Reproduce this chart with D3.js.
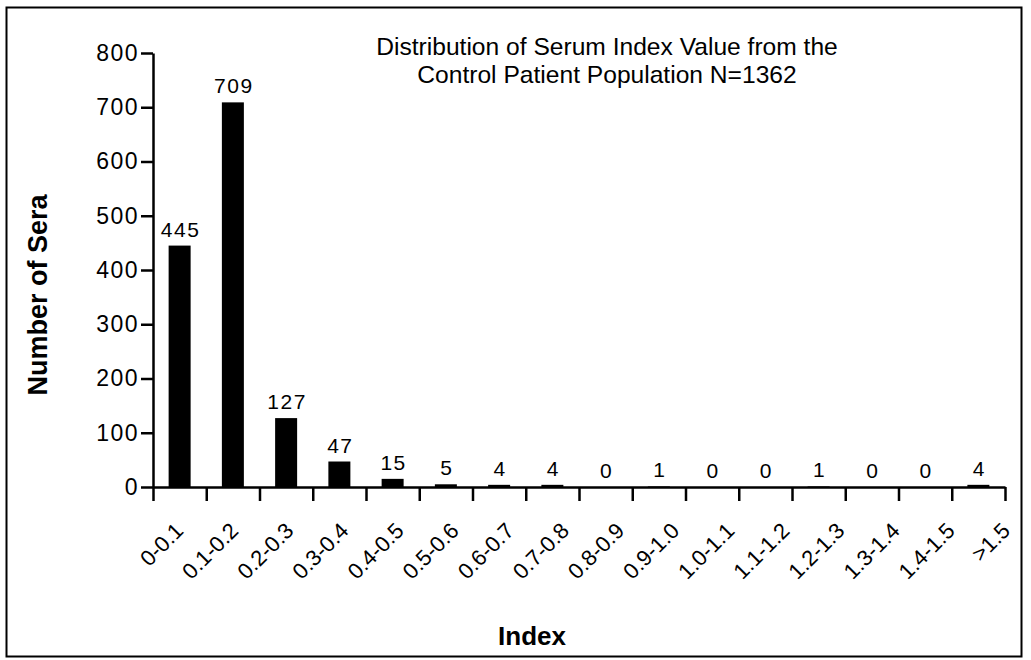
<!DOCTYPE html>
<html>
<head>
<meta charset="utf-8">
<script src="https://cdn.jsdelivr.net/npm/d3@7"></script>
<style>
  body { margin: 0; background: #fff; }
  svg { font-family: "Liberation Sans", Arial, Helvetica, sans-serif; }
</style>
</head>
<body>
<div id="chart"></div>
<script>
// Bins of the serum index and number of sera in each
const categories = ["0-0.1", "0.1-0.2", "0.2-0.3", "0.3-0.4", "0.4-0.5", "0.5-0.6",
  "0.6-0.7", "0.7-0.8", "0.8-0.9", "0.9-1.0", "1.0-1.1", "1.1-1.2",
  "1.2-1.3", "1.3-1.4", "1.4-1.5", ">1.5"];
const counts = [445, 709, 127, 47, 15, 5, 4, 4, 0, 1, 0, 0, 1, 0, 0, 4];
const yTicks = [0, 100, 200, 300, 400, 500, 600, 700, 800];
const titleLines = ["Distribution of Serum Index Value from the",
  "Control Patient Population N=1362"];

const width = 1031, height = 660;
const margin = { top: 53, right: 26, bottom: 173, left: 153 };

const svg = d3.select("#chart").append("svg")
  .attr("width", width)
  .attr("height", height);

// outer frame
svg.append("rect")
  .attr("x", 6.5).attr("y", 7.5)
  .attr("width", 1015).attr("height", 649)
  .attr("fill", "none")
  .attr("stroke", "#000")
  .attr("stroke-width", 2);

// x scale runs over bin index so ticks fall on bin edges
const x = d3.scaleLinear()
  .domain([0, categories.length])
  .range([margin.left, width - margin.right]);

const y = d3.scaleLinear()
  .domain([0, 800])
  .range([height - margin.bottom, margin.top]);

// category labels sit a little wider apart than the bins in the original
const labelX = d3.scaleLinear()
  .domain([0, categories.length - 1])
  .range([x(0.5) + 5, x(categories.length - 0.5) + 33]);

const barWidth = 22;

// bars
svg.append("g")
  .selectAll("rect")
  .data(counts)
  .join("rect")
  .attr("x", (d, i) => x(i + 0.5) - barWidth / 2)
  .attr("y", d => y(d))
  .attr("width", barWidth)
  .attr("height", d => y(0) - y(d))
  .attr("fill", "#000");

// value labels
svg.append("g")
  .selectAll("text")
  .data(counts)
  .join("text")
  .attr("x", (d, i) => x(i + 0.5) + 1)
  .attr("y", d => y(d) - 9)
  .attr("text-anchor", "middle")
  .attr("font-size", 21)
  .attr("letter-spacing", 1.5)
  .text(d => d);

// y axis
const yAxis = svg.append("g")
  .attr("transform", `translate(${margin.left},0)`)
  .call(d3.axisLeft(y).tickValues(yTicks).tickSize(12).tickSizeOuter(0).tickPadding(2));
yAxis.selectAll("text")
  .attr("font-size", 23)
  .attr("letter-spacing", 1.5)
  .attr("fill", "#000");
yAxis.selectAll("line, path").attr("stroke", "#000").attr("stroke-width", 2.5);

// x axis, ticks on bin boundaries
const xAxis = svg.append("g")
  .attr("transform", `translate(0,${y(0)})`)
  .call(d3.axisBottom(x).tickValues(d3.range(categories.length + 1))
    .tickSize(14).tickSizeOuter(0).tickFormat(""));
xAxis.selectAll("line, path").attr("stroke", "#000").attr("stroke-width", 2.5);

// rotated category labels
svg.append("g")
  .selectAll("text")
  .data(categories)
  .join("text")
  .attr("transform", (d, i) => `translate(${labelX(i)},${y(0) + 45}) rotate(-45)`)
  .attr("text-anchor", "end")
  .attr("font-size", 22)
  .text(d => d);

// title
svg.append("text")
  .attr("x", 607)
  .attr("y", 55)
  .attr("text-anchor", "middle")
  .attr("font-size", 24.6)
  .selectAll("tspan")
  .data(titleLines)
  .join("tspan")
  .attr("x", 607)
  .attr("dy", (d, i) => i === 0 ? 0 : 28)
  .text(d => d);

// axis titles
svg.append("text")
  .attr("transform", "translate(47,295) rotate(-90)")
  .attr("text-anchor", "middle")
  .attr("font-size", 27)
  .attr("font-weight", "bold")
  .text("Number of Sera");

svg.append("text")
  .attr("x", 532)
  .attr("y", 645)
  .attr("text-anchor", "middle")
  .attr("font-size", 26)
  .attr("font-weight", "bold")
  .text("Index");
</script>
</body>
</html>
